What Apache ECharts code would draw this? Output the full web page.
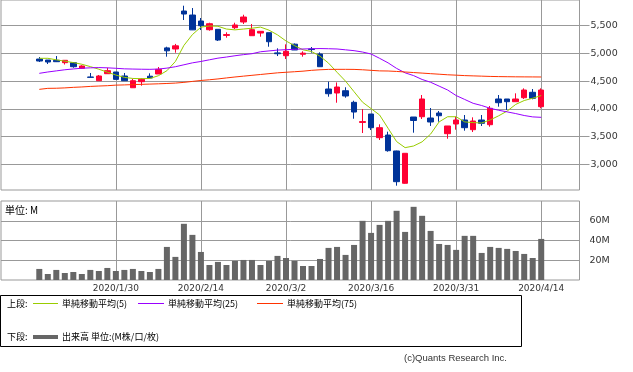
<!DOCTYPE html>
<html><head><meta charset="utf-8">
<script src="https://cdn.jsdelivr.net/npm/echarts@6/dist/echarts.min.js"></script>
<style>html,body{margin:0;padding:0;background:#fff}#c{width:633px;height:372px}</style>
</head><body><div id="c"></div>
<script>
// ---- data ----
const dates = ['2020/1/17','2020/1/20','2020/1/21','2020/1/22','2020/1/23','2020/1/24','2020/1/27','2020/1/28','2020/1/29','2020/1/30','2020/1/31',
'2020/2/3','2020/2/4','2020/2/5','2020/2/6','2020/2/7','2020/2/10','2020/2/12','2020/2/13','2020/2/14','2020/2/17','2020/2/18','2020/2/19','2020/2/20','2020/2/21','2020/2/25','2020/2/26','2020/2/27','2020/2/28',
'2020/3/2','2020/3/3','2020/3/4','2020/3/5','2020/3/6','2020/3/9','2020/3/10','2020/3/11','2020/3/12','2020/3/13','2020/3/16','2020/3/17','2020/3/18','2020/3/19','2020/3/23','2020/3/24','2020/3/25','2020/3/26','2020/3/27','2020/3/30','2020/3/31',
'2020/4/1','2020/4/2','2020/4/3','2020/4/6','2020/4/7','2020/4/8','2020/4/9','2020/4/10','2020/4/13','2020/4/14'];
const tickLabels = ['2020/1/30','2020/2/14','2020/3/2','2020/3/16','2020/3/31','2020/4/14'];
const openP  = [4899,4881,4876,4833,4833,4731,4575,4508,4634,4665,4593,4381,4490,4589,4629,5100,5080,5765,5693,5585,5428,5435,5325,5464,5567,5320,5368,5374,5010,4959,5167,4985,5080,4989,4358,4286,4327,4118,3755,3907,3480,3528,3240,2657,3853,3858,3835,3925,3552,3727,3799,3624,3799,3714,4178,4178,4129,4201,4299,4039];
const closeP = [4863,4845,4851,4876,4760,4773,4568,4593,4689,4532,4508,4508,4533,4557,4713,5047,5137,5711,5425,5500,5536,5242,5340,5513,5657,5428,5399,5211,4995,5038,5062,5005,5070,4760,4273,4394,4232,3943,3770,3660,3660,3245,2686,3198,3790,4178,3763,3876,3691,3799,3660,3781,3739,4010,4111,4129,4178,4340,4190,4340];
const highP  = [4935,4881,4953,4880,4840,4787,4647,4611,4742,4665,4647,4539,4551,4641,4755,5121,5172,5861,5819,5639,5554,5435,5381,5554,5698,5531,5399,5374,5092,5164,5180,5038,5116,5020,4490,4477,4389,4147,3997,3907,3721,3588,3245,3198,3853,4250,4015,3961,3691,3858,3889,3847,3889,4051,4250,4178,4280,4370,4358,4370];
const lowP   = [4845,4809,4845,4800,4742,4725,4568,4508,4634,4532,4508,4381,4418,4557,4629,4941,5013,5603,5422,5422,5410,5224,5284,5440,5531,5320,5302,5121,4953,4899,5062,4941,5013,4760,4219,4111,4201,3822,3564,3618,3438,3227,2614,2650,3570,3817,3691,3768,3461,3624,3606,3582,3691,3678,4039,3979,4129,4178,4172,4010];
const ma5  = [4912,4912,4885,4860,4835,4805,4762,4715,4662,4610,4568,4548,4545,4548,4598,4688,4855,5145,5340,5475,5495,5490,5440,5425,5440,5455,5475,5420,5335,5225,5140,5065,5035,4950,4825,4660,4500,4310,4120,4005,3890,3650,3410,3300,3330,3405,3545,3765,3858,3858,3765,3752,3745,3800,3875,3960,4080,4150,4192,4240];
const ma25 = [4641,4665,4685,4705,4720,4733,4740,4745,4740,4732,4722,4718,4715,4713,4718,4735,4760,4795,4830,4855,4885,4915,4935,4958,4978,4995,5030,5045,5060,5068,5075,5080,5085,5088,5085,5080,5065,5050,5025,4990,4912,4830,4730,4650,4600,4530,4480,4410,4340,4240,4170,4100,4060,4010,3975,3945,3915,3880,3855,3847];
const ma75 = [4352,4370,4372,4378,4388,4395,4405,4412,4418,4428,4432,4438,4442,4447,4452,4458,4465,4478,4495,4512,4525,4540,4558,4575,4590,4605,4620,4635,4650,4660,4670,4680,4695,4705,4712,4713,4713,4712,4705,4695,4685,4683,4675,4665,4655,4645,4635,4625,4615,4608,4600,4595,4590,4585,4582,4580,4578,4577,4576,4575];
const volume = [11.2,6.1,10.2,7.1,8.1,6.1,10.2,9.1,12.2,9.1,10.2,11.2,9.1,8.1,11.2,33.5,23.4,56.9,45.7,28.4,15.2,18.3,15.2,19.3,20.3,20.3,15.2,19.3,24.4,22.3,19.3,14.2,14.2,21.3,32.5,33.5,25.4,35.5,59.9,47.7,55.8,59.9,70.1,48.7,74.1,65.0,49.7,36.5,35.5,30.5,44.7,44.7,27.4,33.5,32.5,31.5,29.4,26.4,22.3,41.6];
const priceTicks = [3000,3500,4000,4500,5000,5500];
const volumeTicks = [20,40,60];

// ---- build ----
const PAD = 4;
const cats = [];
for (let i = 0; i < PAD; i++) cats.push('_l' + i);
dates.forEach(d => cats.push(d));
for (let i = 0; i < PAD; i++) cats.push('_r' + i);
const kData = dates.map((d, i) => [d, openP[i], closeP[i], lowP[i], highP[i]]);
const pair = arr => dates.map((d, i) => [d, arr[i]]);
const showTick = (idx, v) => tickLabels.indexOf(v) >= 0;
const GRID = '#999999';
const LBL = {color: '#333', fontFamily: 'DejaVu Sans', fontSize: 9.5};
const JP = '"Noto Sans CJK JP", sans-serif';

const chart = echarts.init(document.getElementById('c'), null, {renderer: 'canvas'});
chart.setOption({
  animation: false,
  backgroundColor: '#fff',
  grid: [
    {left: 1, top: 0, width: 578.5, height: 190, show: true, borderColor: GRID, borderWidth: 1, backgroundColor: '#fff'},
    {left: 1, top: 201, width: 578.5, height: 79, show: true, borderColor: GRID, borderWidth: 1, backgroundColor: '#fff'}
  ],
  xAxis: [
    {type: 'category', gridIndex: 0, data: cats, boundaryGap: true,
     axisLine: {show: false}, axisTick: {show: false}, axisLabel: {show: false},
     splitLine: {show: true, alignWithLabel: true, interval: showTick, lineStyle: {color: GRID, width: 1}}},
    {type: 'category', gridIndex: 1, data: cats, boundaryGap: true,
     axisLine: {show: false}, axisTick: {show: false},
     axisLabel: {show: true, interval: showTick, margin: 4, color: '#333', fontFamily: 'DejaVu Sans', fontSize: 9},
     splitLine: {show: true, alignWithLabel: true, interval: showTick, lineStyle: {color: GRID, width: 1}}}
  ],
  yAxis: [
    {type: 'value', gridIndex: 0, position: 'right', min: 2536, max: 5964, scale: true,
     axisLine: {show: false},
     axisTick: {show: true, inside: false, length: 10, lineStyle: {color: GRID}, customValues: priceTicks},
     axisLabel: Object.assign({customValues: priceTicks, margin: 11, formatter: v => Number(v).toLocaleString('en-US')}, LBL),
     splitLine: {show: true, lineStyle: {color: GRID, width: 1}}},
    {type: 'value', gridIndex: 1, position: 'right', min: 0, max: 80,
     axisLine: {show: false},
     axisTick: {show: false, customValues: volumeTicks},
     axisLabel: Object.assign({customValues: volumeTicks, margin: 10, formatter: v => v + 'M'}, LBL),
     splitLine: {show: true, lineStyle: {color: GRID, width: 1}}}
  ],
  series: [
    {type: 'candlestick', xAxisIndex: 0, yAxisIndex: 0, data: kData, encode: {x: 0, y: [1, 2, 3, 4]},
     barWidth: 6,
     itemStyle: {color: '#ff0033', color0: '#003399', borderColor: '#ff0033', borderColor0: '#003399', borderWidth: 1}},
    {type: 'line', name: '単純移動平均(5)', xAxisIndex: 0, yAxisIndex: 0, data: pair(ma5), showSymbol: false, symbol: 'none',
     lineStyle: {color: '#99cc00', width: 1}, itemStyle: {color: '#99cc00'}, z: 3},
    {type: 'line', name: '単純移動平均(25)', xAxisIndex: 0, yAxisIndex: 0, data: pair(ma25), showSymbol: false, symbol: 'none',
     lineStyle: {color: '#9900ff', width: 1}, itemStyle: {color: '#9900ff'}, z: 3},
    {type: 'line', name: '単純移動平均(75)', xAxisIndex: 0, yAxisIndex: 0, data: pair(ma75), showSymbol: false, symbol: 'none',
     lineStyle: {color: '#ff3300', width: 1}, itemStyle: {color: '#ff3300'}, z: 3},
    {type: 'bar', name: '出来高', xAxisIndex: 1, yAxisIndex: 1, data: pair(volume), barWidth: 6,
     itemStyle: {color: '#666666'}}
  ],
  graphic: [
    {type: 'text', x: 5, y: 210, style: {text: '単位: M', fontSize: 10, fontFamily: JP, fill: '#000', verticalAlign: 'middle'}},
    {type: 'rect', shape: {x: 0.5, y: 295.5, width: 521, height: 51}, style: {fill: '#fff', stroke: '#000', lineWidth: 1}},
    {type: 'text', x: 7, y: 303.5, style: {text: '上段:', fontSize: 9, fontFamily: JP, fill: '#000', verticalAlign: 'middle'}},
    {type: 'line', shape: {x1: 33, y1: 303.5, x2: 58, y2: 303.5}, style: {stroke: '#99cc00', lineWidth: 1}},
    {type: 'text', x: 62, y: 303.5, style: {text: '単純移動平均(5)', fontSize: 9, fontFamily: JP, fill: '#000', verticalAlign: 'middle'}},
    {type: 'line', shape: {x1: 138, y1: 303.5, x2: 164, y2: 303.5}, style: {stroke: '#9900ff', lineWidth: 1}},
    {type: 'text', x: 168, y: 303.5, style: {text: '単純移動平均(25)', fontSize: 9, fontFamily: JP, fill: '#000', verticalAlign: 'middle'}},
    {type: 'line', shape: {x1: 257, y1: 303.5, x2: 283, y2: 303.5}, style: {stroke: '#ff3300', lineWidth: 1}},
    {type: 'text', x: 287, y: 303.5, style: {text: '単純移動平均(75)', fontSize: 9, fontFamily: JP, fill: '#000', verticalAlign: 'middle'}},
    {type: 'text', x: 7, y: 337, style: {text: '下段:', fontSize: 9, fontFamily: JP, fill: '#000', verticalAlign: 'middle'}},
    {type: 'line', shape: {x1: 33, y1: 337, x2: 58, y2: 337}, style: {stroke: '#666666', lineWidth: 4}},
    {type: 'text', x: 62, y: 337, style: {text: '出来高 単位:(M株/口/枚)', fontSize: 9, fontFamily: JP, fill: '#000', verticalAlign: 'middle'}},
    {type: 'text', x: 507, y: 358, style: {text: '(c)Quants Research Inc.', fontSize: 9.5, fontFamily: 'Liberation Sans', fill: '#333', align: 'right', verticalAlign: 'middle'}}
  ]
});
</script>
</body></html>
